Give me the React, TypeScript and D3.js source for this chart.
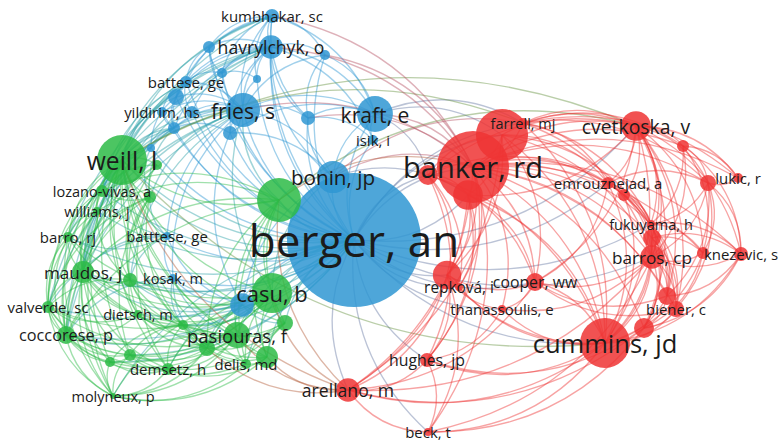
import React, { useMemo } from "react";
import * as d3 from "d3";

const W = 782;
const H = 443;

// Cluster colours
const clusterColors: Record<string, string> = {
  blue: "#2f97d2",
  green: "#2dbb47",
  red: "#ee3434",
};

// Map coordinates and total link strength: [id, x, y, weight]
const blueNodes: [string, number, number, number][] = [
  ["ber", -0.37, -0.19, 449],
  ["bon", -0.58, 0.44, 26],
  ["kra", -0.16, 1.07, 32],
  ["isi", -0.18, 0.81, 2.5],
  ["fri", -1.48, 1.11, 29],
  ["hav", -1.2, 1.74, 14],
  ["kum", -1.19, 2.05, 4.9],
  ["bat", -2.05, 1.39, 3.6],
  ["yil", -2.29, 1.09, 2.5],
  ["b1", -2.15, 1.24, 6.4],
  ["b2", -1.99, 1.09, 3.6],
  ["b3", -2.17, 0.93, 3.6],
  ["b4", -1.61, 0.88, 4.9],
  ["b5", -0.83, 1.03, 4.9],
  ["b6", -1.82, 1.74, 3.6],
  ["b7", -0.66, 1.66, 2.5],
  ["b8", -1.69, 1.48, 2.5],
  ["b9", -1.34, 1.42, 1.6],
  ["b10", -2.4, 0.73, 1.6],
  ["btt", -2.24, -0.15, 1.6],
  ["kos", -2.18, -0.57, 1.6],
  ["b11", -1.49, -0.84, 14],
];

const greenNodes: [string, number, number, number][] = [
  ["wei", -2.69, 0.61, 62],
  ["g0", -1.12, 0.21, 48],
  ["cas", -1.19, -0.72, 40],
  ["pas", -1.54, -1.14, 17],
  ["del", -1.45, -1.43, 2.5],
  ["dem", -2.23, -1.48, 3.6],
  ["die", -2.53, -0.93, 1.6],
  ["coc", -3.25, -1.14, 8],
  ["val", -3.43, -0.86, 3.6],
  ["mau", -3.08, -0.51, 12],
  ["bar", -3.23, -0.16, 2.5],
  ["mol", -2.78, -1.75, 0.9],
  ["loz", -2.89, 0.3, 3.6],
  ["wil", -2.94, 0.1, 1.6],
  ["g1", -2.41, 0.24, 3.6],
  ["g2", -2.61, -0.59, 4.9],
  ["g3", -2.08, -1.04, 2.5],
  ["g4", -1.84, -1.27, 6.4],
  ["g5", -2.61, -1.34, 3.6],
  ["g6", -2.81, -1.41, 2.5],
  ["g7", -1.06, -1.02, 6.4],
  ["g8", -2.34, 0.56, 2.5],
  ["g9", -1.24, -1.36, 12],
];

const redNodes: [string, number, number, number][] = [
  ["ban", 0.82, 0.54, 130],
  ["far", 1.32, 0.98, 2.5],
  ["r0", 1.11, 0.86, 68],
  ["r1", 0.77, 0.26, 22],
  ["r2", 0.37, 0.46, 10],
  ["cve", 2.45, 0.95, 22],
  ["r3", 2.92, 0.75, 3.6],
  ["luk", 3.47, 0.43, 2.5],
  ["r4", 3.17, 0.38, 6.4],
  ["emr", 2.17, 0.38, 3.6],
  ["r5", 2.33, 0.26, 3.6],
  ["fuk", 2.6, -0.03, 1.6],
  ["r6", 2.61, -0.17, 8],
  ["barr", 2.61, -0.36, 14],
  ["kne", 3.5, -0.33, 4.9],
  ["r7", 3.12, -0.32, 3.6],
  ["rep", 0.68, -0.66, 1.6],
  ["r8", 0.56, -0.54, 20],
  ["coo", 1.44, -0.61, 8],
  ["tha", 1.11, -0.88, 1.6],
  ["bie", 2.85, -0.88, 6.4],
  ["r9", 2.76, -0.75, 8],
  ["cum", 2.14, -1.22, 62],
  ["r10", 2.53, -1.07, 10],
  ["hug", 0.36, -1.39, 4.9],
  ["are", -0.43, -1.69, 14],
  ["bec", 0.37, -2.11, 1.6],
];

// Author labels and their label score: [id, text, score]
const labels: [string, string, number][] = [
  ["ber", "berger, an", 100],
  ["ban", "banker, rd", 66],
  ["cum", "cummins, jd", 58],
  ["wei", "weill, l", 56],
  ["cas", "casu, b", 50],
  ["kra", "kraft, e", 48],
  ["fri", "fries, s", 48],
  ["bon", "bonin, jp", 47],
  ["cve", "cvetkoska, v", 44],
  ["pas", "pasiouras, f", 42],
  ["hav", "havrylchyk, o", 40],
  ["are", "arellano, m", 40],
  ["mau", "maudos, j", 39],
  ["barr", "barros, cp", 39],
  ["coc", "coccorese, p", 37],
  ["hug", "hughes, jp", 36],
  ["coo", "cooper, ww", 36],
  ["rep", "repková, i", 35],
  ["kum", "kumbhakar, sc", 34],
  ["bat", "battese, ge", 34],
  ["yil", "yildirim, hs", 34],
  ["isi", "isik, i", 34],
  ["loz", "lozano-vivas, a", 33],
  ["wil", "williams, j", 33],
  ["bar", "barro, rj", 34],
  ["btt", "batttese, ge", 34],
  ["kos", "kosak, m", 33],
  ["val", "valverde, sc", 34],
  ["die", "dietsch, m", 33],
  ["dem", "demsetz, h", 34],
  ["del", "delis, md", 34],
  ["mol", "molyneux, p", 33],
  ["far", "farrell, mj", 33],
  ["emr", "emrouznejad, a", 34],
  ["luk", "lukic, r", 34],
  ["fuk", "fukuyama, h", 33],
  ["kne", "knezevic, s", 34],
  ["tha", "thanassoulis, e", 34],
  ["bie", "biener, c", 34],
  ["bec", "beck, t", 34],
];

// Co-citation links, written as "source: targets"
const links: string[] = [
  "ber: bon kra isi fri hav kum bat yil b1 b2 b3 b4 b5 b6 b7 b8 b9 b10 btt kos b11 wei g0 cas pas mau coc del g4 g7 g9 ban far r0 r1 r2 cve rep r8 coo cum hug are bec barr emr",
  "ber: die dem val bar loz wil g1 g2 g3 g5 g6 g8 mol tha fuk",
  "kum: hav b6 b7 b8 b9 fri bat b1 kra b5 wei loz mau",
  "hav: b6 b7 b8 b9 fri bat b1 b2 b3 b4 b5 kra isi bon wei loz coc mau val bar",
  "fri: bat yil b1 b2 b3 b4 b5 b6 b7 b8 b9 b10 kra bon wei g0 cas mau btt kos g1 g2 loz coc val bar",
  "kra: isi bon b5 b7 b4 far r0 r2",
  "bon: isi b4 b5 b11 g0 cas r1",
  "bat: b1 b2 b3 b6 b8 yil wei loz mau",
  "b1: b3 b10 wei",
  "b3: b10 yil wei loz mau coc g1",
  "b10: wei loz g1 mau",
  "b4: b3 b11",
  "b5: b7 isi",
  "b6: b8",
  "b8: b9",
  "b11: cas pas btt kos g7 g2 g3 g4 mau coc",
  "btt: kos wei mau g1 g2 bar val loz",
  "kos: cas pas g2 g3 g4 mau coc",
  "wei: g0 cas pas del dem die coc val mau bar mol loz wil g1 g2 g3 g4 g5 g6 g7 g8 g9 far cve cum",
  "g0: cas pas del mau coc g4 g7 g9 loz wil cve",
  "cas: pas del dem die coc val mau bar mol g2 g3 g4 g5 g6 g7 g9",
  "pas: del dem die coc val mau bar mol g2 g3 g4 g5 g6 g7 g9",
  "mau: coc val bar mol loz wil g1 g2 g3 g5 g6 die dem",
  "coc: val bar mol g2 g5 g6 dem die",
  "mol: val bar g5 g6 dem del g9 g4 loz",
  "loz: wil g1 g8 bar val",
  "g1: g2 g3 g5 coc val die dem",
  "g8: g1 g2 mau coc",
  "wil: g2 mau coc val",
  "val: g2 g5 g6 die dem",
  "g3: g4 g5 g6 dem del g9",
  "g5: g6 g4 del",
  "g7: g4 del g3 dem",
  "g9: del g7 g4 dem",
  "die: g3 g4 g2",
  "dem: g4 g5 g6",
  "bar: val wil",
  "g2: g3 g4",
  "ban: far r0 r1 r2 cve r3 luk r4 emr r5 fuk r6 barr kne r7 rep r8 coo tha bie r9 cum r10 hug are bec",
  "ban: kra bon fri hav kum b5 b7 g0",
  "r0: r1 r2 cve emr fuk barr coo cum are r8 kra",
  "r1: r2 cve r8 rep cum coo are hug",
  "r2: cve emr cum coo rep r8 hug",
  "far: cve emr r3 r4 luk fuk barr cum kra bon",
  "cve: r3 luk r4 emr r5 fuk r6 barr kne r7 bie r9 cum r10 coo",
  "r3: luk r4 kne r7 fuk barr",
  "r4: luk kne r7 barr bie r9 fuk emr",
  "emr: r5 fuk barr coo bie cum",
  "r5: fuk barr r6 r9 cum",
  "fuk: r6 barr kne r7 bie r9 cum r10",
  "r6: kne r7 bie r9 cum r10",
  "barr: kne r7 bie r9 cum r10 coo tha",
  "r9: r10 cum kne",
  "r10: bie kne r7",
  "coo: tha cum r9 bie",
  "cum: bie kne r7 tha rep r8 hug are bec",
  "r8: rep coo tha hug are bec",
  "are: hug bec cas pas g0 wei g9 g4 cum barr coo r10",
  "hug: bec tha r10",
  "bec: r10 barr",
];

type Node = { id: string; x: number; y: number; w: number; cluster: string };

export default function App() {
  const x = d3.scaleLinear().domain([-3.91, 3.91]).range([0, W]);
  const y = d3.scaleLinear().domain([2.21, -2.22]).range([0, H]);
  const r = d3.scaleSqrt().domain([0, 449]).range([0, 67]);
  const font = d3.scaleLinear().domain([0, 100]).range([0, 44]);

  const { nodes, byId, edges } = useMemo(() => {
    const nodes: Node[] = [];
    const add = (arr: [string, number, number, number][], cluster: string) =>
      arr.forEach(([id, nx, ny, w]) => nodes.push({ id, x: nx, y: ny, w, cluster }));
    add(blueNodes, "blue");
    add(greenNodes, "green");
    add(redNodes, "red");
    const byId = new Map(nodes.map((n) => [n.id, n]));
    const seen = new Set<string>();
    const edges: { s: Node; t: Node; color: string }[] = [];
    links.forEach((line) => {
      const [src, rest] = line.split(":");
      const s = byId.get(src.trim())!;
      rest
        .trim()
        .split(/\s+/)
        .forEach((tid) => {
          const t = byId.get(tid);
          if (!t || t === s) return;
          const key = [s.id, t.id].sort().join("|");
          if (seen.has(key)) return;
          seen.add(key);
          // links between clusters take a blend of both colours
          const color =
            s.cluster === t.cluster
              ? clusterColors[s.cluster]
              : d3.interpolateRgb(clusterColors[s.cluster], clusterColors[t.cluster])(0.3);
          edges.push({ s, t, color });
        });
    });
    return { nodes, byId, edges };
  }, []);

  // Links bend clockwise around the map centre
  const cx = x(0);
  const cy = y(0);
  const edgePath = (a: Node, b: Node) => {
    let x1 = x(a.x), y1 = y(a.y), x2 = x(b.x), y2 = y(b.y);
    const cross = (x1 - cx) * (y2 - cy) - (y1 - cy) * (x2 - cx);
    if (cross < 0) {
      [x1, x2] = [x2, x1];
      [y1, y2] = [y2, y1];
    }
    const dx = x2 - x1, dy = y2 - y1;
    const k = 0.25;
    const qx = (x1 + x2) / 2 + dy * k;
    const qy = (y1 + y2) / 2 - dx * k;
    const p = d3.path();
    p.moveTo(x1, y1);
    p.quadraticCurveTo(qx, qy, x2, y2);
    return p.toString();
  };

  const nodeOrder = [...nodes].sort((a, b) => b.w - a.w);
  const labelOrder = [...labels].sort((a, b) => a[2] - b[2]);

  return (
    <svg
      width={W}
      height={H}
      style={{ position: "absolute", left: 0, top: 0, background: "#fff" }}
      fontFamily="'Open Sans', 'Noto Sans', sans-serif"
    >
      <g fill="none" strokeWidth={1.35} strokeOpacity={0.45}>
        {edges.map((e, i) => (
          <path key={i} d={edgePath(e.s, e.t)} stroke={e.color} />
        ))}
      </g>
      <g>
        {nodeOrder.map((n) => (
          <circle
            key={n.id}
            cx={x(n.x)}
            cy={y(n.y)}
            r={r(n.w)}
            fill={clusterColors[n.cluster]}
            fillOpacity={0.85}
          />
        ))}
      </g>
      <g fill="#1b1b1b">
        {labelOrder.map(([id, text, score]) => {
          const n = byId.get(id)!;
          return (
            <text
              key={id}
              x={x(n.x)}
              y={y(n.y)}
              fontSize={font(score)}
              textAnchor="middle"
              dominantBaseline="central"
            >
              {text}
            </text>
          );
        })}
      </g>
    </svg>
  );
}
